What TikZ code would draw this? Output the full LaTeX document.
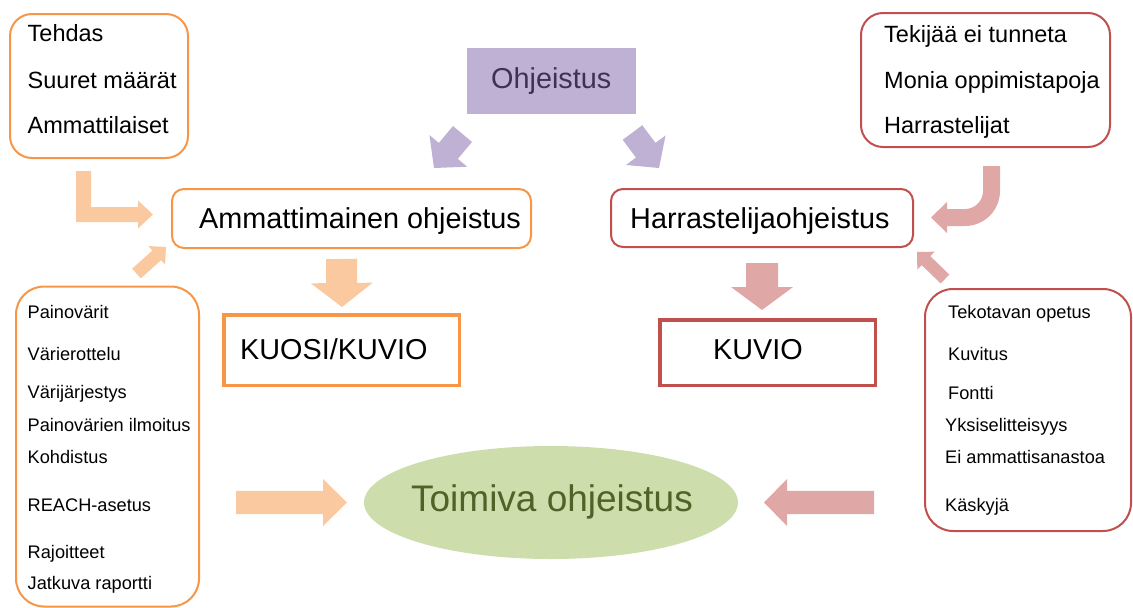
\documentclass[tikz,border=0pt]{standalone}
\usepackage{fontspec}
\setmainfont{Liberation Sans}
\usetikzlibrary{calc,shapes.geometric}
\definecolor{orng}{HTML}{F79646}
\definecolor{orngL}{HTML}{FAC9A0}
\definecolor{redB}{HTML}{C0504D}
\definecolor{redL}{HTML}{DFA7A6}
\definecolor{purp}{HTML}{BFB1D3}
\definecolor{purpT}{HTML}{403152}
\definecolor{grn}{HTML}{CDDDAC}
\definecolor{grnT}{HTML}{4F6228}
% block arrow: #1 tail, #2 tip, #3 half shaft, #4 half head, #5 head length, #6 colour
\newcommand\barrow[6]{%
  \path ($(#2)!#5!(#1)$) coordinate (ba-n);
  \fill[#6] ($(#1)!#3!90:(#2)$) -- ($(ba-n)!#3!90:(#2)$) -- ($(ba-n)!#4!90:(#2)$)
    -- (#2) -- ($(ba-n)!#4!-90:(#2)$) -- ($(ba-n)!#3!-90:(#2)$) -- ($(#1)!#3!-90:(#2)$) -- cycle;}
\begin{document}
\begin{tikzpicture}[x=1pt,y=-1pt,
  obox/.style={draw=orng, line width=2pt, inner sep=0pt},
  rbox/.style={draw=redB, line width=2pt, inner sep=0pt},
  txtL/.style={inner sep=0pt, anchor=base west, font=\fontsize{23.5}{27}\selectfont},
  txtS/.style={inner sep=0pt, anchor=base west, font=\fontsize{18.2}{22}\selectfont},
  txtB/.style={inner sep=0pt, anchor=base west, font=\fontsize{28.8}{33}\selectfont}]
\useasboundingbox (0,0) rectangle (1133,608);

% top left box
\node[obox, rounded corners=22pt, minimum width=178pt, minimum height=144pt] (tl) at (99,86) {};
\node[txtL] (tl1) at (27.5,41.7) {Tehdas};
\node[txtL] (tl2) at (27.5,88) {Suuret määrät};
\node[txtL] (tl3) at (27.5,133) {Ammattilaiset};

% Ohjeistus
\node[fill=purp, minimum width=169pt, minimum height=66pt, inner sep=0pt] (oh) at (551.5,81) {};
\node[txtB, text=purpT] (ohT) at (491,88) {Ohjeistus};

% top right box
\node[rbox, rounded corners=22pt, minimum width=249pt, minimum height=134pt] (tr) at (985.5,80) {};
\node[txtL] (tr1) at (884,42) {Tekijää ei tunneta};
\node[txtL] (tr2) at (884,88) {Monia oppimistapoja};
\node[txtL] (tr3) at (884,133) {Harrastelijat};

% middle boxes
\node[obox, rounded corners=12pt, minimum width=359pt, minimum height=59pt] (am) at (351.5,218.5) {};
\node[txtB] (amT) at (199,228) {Ammattimainen ohjeistus};
\node[rbox, rounded corners=12pt, minimum width=302pt, minimum height=58pt] (ha) at (762,218) {};
\node[txtB] (haT) at (630,228) {Harrastelijaohjeistus};

\node[draw=orng, line width=3.5pt, minimum width=235.5pt, minimum height=70.5pt, inner sep=0pt] (ku1) at (341.5,350) {};
\node[txtB] (ku1T) at (240,359) {KUOSI/KUVIO};
\node[draw=redB, line width=3.5pt, minimum width=215.5pt, minimum height=65.5pt, inner sep=0pt] (ku2) at (767.5,352.5) {};
\node[txtB] (ku2T) at (713,359) {KUVIO};

% bottom left box
\node[obox, rounded corners=28pt, minimum width=183pt, minimum height=320pt] (lb) at (107.5,446.5) {};
\node[txtS] (lb1) at (27.5,318) {Painovärit};
\node[txtS] (lb2) at (27.5,360) {Värierottelu};
\node[txtS] (lb3) at (27.5,398) {Värijärjestys};
\node[txtS] (lb4) at (27.5,431) {Painovärien ilmoitus};
\node[txtS] (lb5) at (27.5,463) {Kohdistus};
\node[txtS] (lb6) at (27.5,511) {REACH-asetus};
\node[txtS] (lb7) at (27.5,558) {Rajoitteet};
\node[txtS] (lb8) at (27.5,589) {Jatkuva raportti};

% bottom right box
\node[rbox, rounded corners=28pt, minimum width=206pt, minimum height=242pt] (rb) at (1028,410) {};
\node[txtS] (rb1) at (948,318) {Tekotavan opetus};
\node[txtS] (rb2) at (948,360) {Kuvitus};
\node[txtS] (rb3) at (948,399) {Fontti};
\node[txtS] (rb4) at (945,431) {Yksiselitteisyys};
\node[txtS] (rb5) at (945,463) {Ei ammattisanastoa};
\node[txtS] (rb6) at (945,511) {Käskyjä};

% ellipse
\node[ellipse, fill=grn, minimum width=374pt, minimum height=113pt, inner sep=0pt] (el) at (551,502.5) {};
\node[inner sep=0pt, anchor=base, text=grnT, font=\fontsize{37}{42}\selectfont] (elT) at (552,511.7) {Toimiva ohjeistus};

% arrows
\coordinate (pa1s) at (462.5,134); \coordinate (pa1e) at (434,168);
\barrow{pa1s}{pa1e}{12.4pt}{24.6pt}{22.3pt}{purp}
\coordinate (pa2s) at (632.5,132.5); \coordinate (pa2e) at (659,168);
\barrow{pa2s}{pa2e}{12.2pt}{24.7pt}{22.2pt}{purp}

\coordinate (od1s) at (136.5,273.5); \coordinate (od1e) at (166,247);
\barrow{od1s}{od1e}{6.5pt}{12.5pt}{12.5pt}{orngL}
\coordinate (rd1s) at (945,279); \coordinate (rd1e) at (917,252);
\barrow{rd1s}{rd1e}{6.2pt}{12.5pt}{12.5pt}{redL}

\coordinate (odns) at (341.5,259); \coordinate (odne) at (342,307);
\barrow{odns}{odne}{15.5pt}{31pt}{24pt}{orngL}
\coordinate (rdns) at (762,263); \coordinate (rdne) at (762,310);
\barrow{rdns}{rdne}{16pt}{31pt}{23pt}{redL}

\coordinate (orts) at (236,502.5); \coordinate (orte) at (347,502.5);
\barrow{orts}{orte}{11.7pt}{23.5pt}{24pt}{orngL}
\coordinate (rlts) at (874,502.5); \coordinate (rlte) at (764,502.5);
\barrow{rlts}{rlte}{11.7pt}{23.5pt}{23pt}{redL}

% L-shaped arrow
\fill[orngL] (76,171) -- (91,171) -- (91,207) -- (138,207) -- (138,200.5) -- (153,214.5)
  -- (138,228.5) -- (138,222) -- (76,222) -- cycle;
% U-turn arrow
\fill[redL] (983,166) -- (1000,166) -- (1000,191) arc[start angle=0, end angle=-90, radius=35pt]
  -- (947,226) -- (947,233) -- (931,217.5) -- (947,202) -- (947,209) -- (965,209)
  arc[start angle=-90, end angle=0, radius=18pt] -- cycle;
\end{tikzpicture}
\end{document}
